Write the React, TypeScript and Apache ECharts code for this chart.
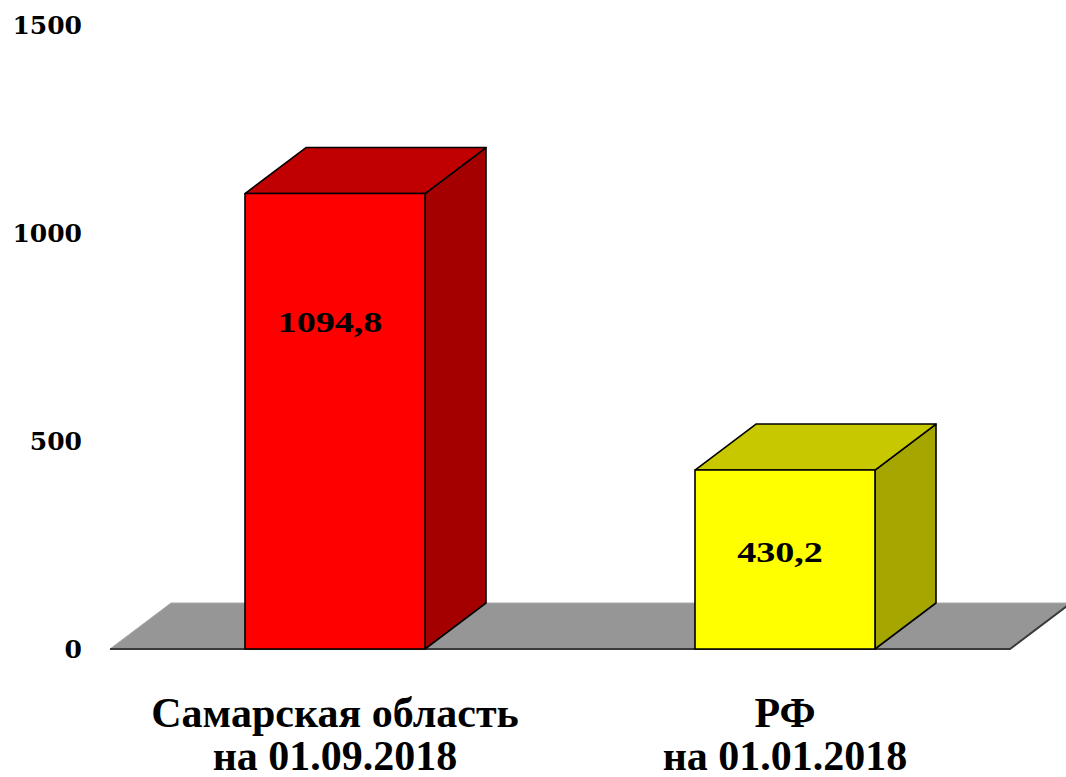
import React, { useEffect, useRef } from "react";
import * as echarts from "echarts";

const categories = ["Самарская область\nна 01.09.2018", "РФ\nна 01.01.2018"];
const values = [1094.8, 430.2];
const valueLabels = ["1094,8", "430,2"];
const yMin = 0;
const yMax = 1500;
const yStep = 500;

const frontColors = ["#ff0000", "#ffff00"];
const topColors = ["#c00000", "#c8c800"];
const sideColors = ["#a40000", "#a6a600"];
const labelFrac = [0.28, 0.455];

const DX = 61;
const DY = -46;
const SERIF = "Liberation Serif, Times New Roman, serif";

export default function App() {
  const ref = useRef<HTMLDivElement>(null);
  useEffect(() => {
    if (!ref.current) return;
    const chart = echarts.init(ref.current, undefined, { renderer: "svg" });
    const option: any = {
      animation: false,
      backgroundColor: "#ffffff",
      grid: { left: 110, right: 56, top: 25, bottom: 127 },
      xAxis: {
        type: "category",
        data: categories,
        axisLine: { show: false },
        axisTick: { show: false },
        splitLine: { show: false },
        axisLabel: {
          interval: 0,
          hideOverlap: false,
          margin: 42,
          fontFamily: SERIF,
          fontWeight: "bold",
          fontSize: 42,
          lineHeight: 43,
          color: "#000",
        },
      },
      yAxis: {
        type: "value",
        min: yMin,
        max: yMax,
        interval: yStep,
        axisLine: { show: false },
        axisTick: { show: false },
        splitLine: { show: false },
        axisLabel: {
          margin: 28,
          formatter: (v: number) => String(v),
          fontFamily: "DejaVu Serif",
          fontWeight: "bold",
          fontSize: 25,
          color: "#000",
        },
      },
      series: [
        {
          type: "custom",
          silent: true,
          clip: false,
          z: 1,
          data: [[0, 0]],
          renderItem: (params: any, api: any) => {
            const cs = params.coordSys;
            const x0 = cs.x;
            const x1 = cs.x + cs.width;
            const y = cs.y + cs.height;
            return {
              type: "group",
              children: [
                {
                  type: "polygon",
                  shape: { points: [[x0, y], [x1, y], [x1 + DX, y + DY], [x0 + DX, y + DY]] },
                  style: { fill: "#969696", stroke: "#a8a8a8", lineWidth: 1 },
                },
                {
                  type: "polyline",
                  shape: { points: [[x0, y], [x1, y], [x1 + DX, y + DY]] },
                  style: { stroke: "#3a3a3a", lineWidth: 2, fill: null },
                },
              ],
            };
          },
        },
        {
          type: "custom",
          silent: true,
          clip: false,
          z: 2,
          data: values.map((v, i) => [i, v]),
          renderItem: (params: any, api: any) => {
            const i = params.dataIndex;
            const cat = api.value(0);
            const v = api.value(1);
            const base = api.coord([cat, 0]);
            const top = api.coord([cat, v]);
            const w = api.size([1, 0])[0] * 0.4;
            const x0 = base[0] - w / 2;
            const x1 = base[0] + w / 2;
            const yb = base[1];
            const yt = top[1];
            const stroke = { stroke: "#000", lineWidth: 1.6, lineJoin: "round" };
            return {
              type: "group",
              children: [
                {
                  type: "polygon",
                  shape: { points: [[x1, yb], [x1 + DX, yb + DY], [x1 + DX, yt + DY], [x1, yt]] },
                  style: { fill: sideColors[i], ...stroke },
                },
                {
                  type: "polygon",
                  shape: { points: [[x0, yt], [x0 + DX, yt + DY], [x1 + DX, yt + DY], [x1, yt]] },
                  style: { fill: topColors[i], ...stroke },
                },
                {
                  type: "rect",
                  shape: { x: x0, y: yt, width: w, height: yb - yt },
                  style: { fill: frontColors[i], ...stroke },
                },
                {
                  type: "text",
                  x: base[0] - 5,
                  y: yt + (yb - yt) * labelFrac[i],
                  scaleX: 1.27,
                  style: {
                    text: valueLabels[i],
                    fontFamily: SERIF,
                    fontWeight: "bold",
                    fontSize: 30,
                    fill: "#000",
                    align: "center",
                    verticalAlign: "middle",
                  },
                },
              ],
            };
          },
        },
      ],
    };
    chart.setOption(option);
    return () => chart.dispose();
  }, []);
  return (
    <div
      ref={ref}
      style={{ position: "absolute", left: 0, top: 0, width: 1066, height: 777 }}
    />
  );
}
